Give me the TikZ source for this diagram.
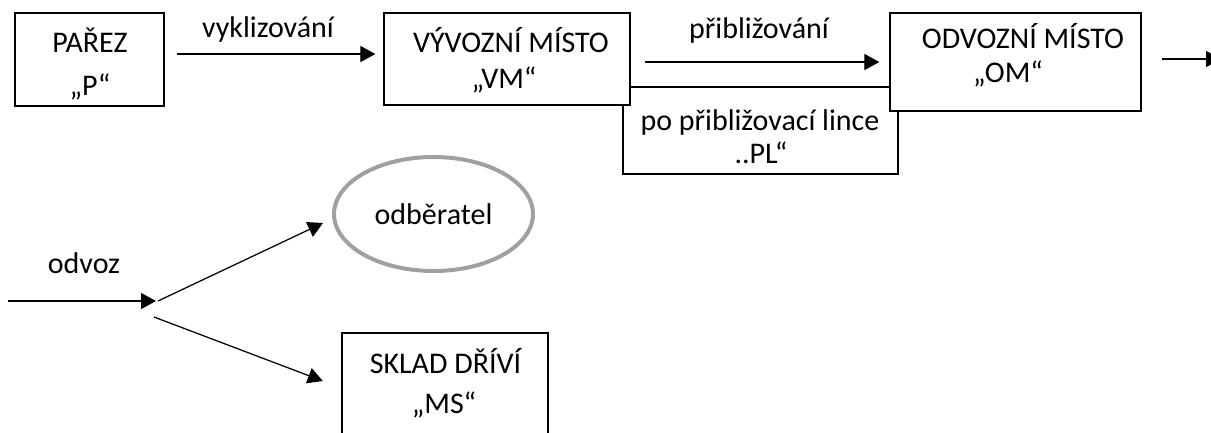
\documentclass[tikz,border=0pt]{standalone}
\usepackage{fontspec}
\setmainfont{Carlito}
\usetikzlibrary{arrows.meta,shapes.geometric,calc}
\definecolor{ovalgray}{RGB}{160,160,160}
\tikzset{
  box/.style={draw, line width=1.3pt, fill=white, inner sep=0pt},
  lbl/.style={anchor=base, inner sep=0pt, font=\fontsize{30}{35}\selectfont},
  arr/.style={line width=1.25pt, -{Triangle[length=15pt,width=16pt]}},
  oval/.style={ellipse, draw=ovalgray, line width=4pt, fill=white, inner sep=0pt,
               font=\fontsize{30}{35}\selectfont},
}
\begin{document}
\begin{tikzpicture}[x=1pt,y=-1pt]
\clip (0,0) rectangle (1211,432);
\fill[white] (0,0) rectangle (1211,432);

% skidding-line box first, so the landing boxes cover its ends
\node[box, minimum width=275, minimum height=87] (pl) at (760.5,130.5) {};
\node[box, minimum width=149, minimum height=93] (p)  at (89.5,59.5) {};
\node[box, minimum width=246, minimum height=92] (vm) at (507,59) {};
\node[box, minimum width=251, minimum height=98] (om) at (1015.5,62) {};
\node[box, minimum width=206, minimum height=127] (ms) at (445,396.5) {};
\node[oval, minimum width=199, minimum height=114] (odb) at (433.5,214) {odběratel};

% box texts
\node[lbl] (p-a)  at (90,52)    {PAŘEZ};
\node[lbl] (p-b)  at (90,95)    {„P“};
\node[lbl] (vm-a) at (511,52.5) {VÝVOZNÍ MÍSTO};
\node[lbl] (vm-b) at (504,88)   {„VM“};
\node[lbl] (om-a) at (1023,48)  {ODVOZNÍ MÍSTO};
\node[lbl] (om-b) at (1008,82)  {„OM“};
\node[lbl] (pl-a) at (760,130)  {po přibližovací lince};
\node[lbl] (pl-b) at (761,163)  {..PL“};
\node[lbl] (ms-a) at (445.5,373) {SKLAD DŘÍVÍ};
\node[lbl] (ms-b) at (444,413)  {„MS“};

% flow arrows
\draw[arr] ($(p.east)+(12,-5.5)$) -- ($(vm.west)+(-8,-5)$);
\node[lbl] (l-vykl) at (268,37) {vyklizování};

\draw[arr] ($(vm.east)+(14,3)$) -- ($(om.west)+(-10,0)$);
\node[lbl] (l-pribl) at (759,38) {přibližování};

\coordinate (out) at (1221,59);
\draw[arr] ($(om.east)+(20,-3)$) -- (out);

% transport and its two destinations
\coordinate (in) at (8,301);
\coordinate (fork) at (156,301);
\draw[arr] (in) -- (fork);
\node[lbl] (l-odvoz) at (84,273) {odvoz};

\draw[arr] ($(fork)+(2,0)$) -- ($(odb.west)+(-9,9)$);
\draw[arr] ($(fork)+(-2,16)$) -- ($(ms.west)+(-18.5,-15.5)$);
\end{tikzpicture}
\end{document}
